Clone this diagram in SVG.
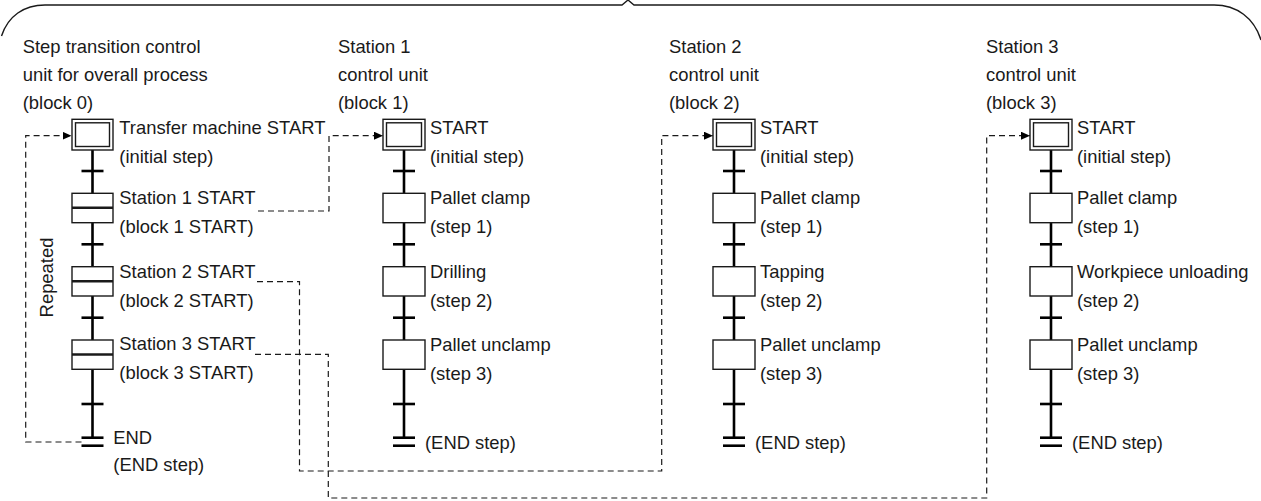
<svg xmlns="http://www.w3.org/2000/svg" width="1261" height="501" viewBox="0 0 1261 501">
<defs>
<style>
text{font-family:"Liberation Sans",Arial,sans-serif;font-size:18.4px;fill:#1a1a1a}
.box{fill:#fff;stroke:#1a1a1a;stroke-width:1.4}
.mid{stroke:#1a1a1a;stroke-width:2.6}
.spine{stroke:#000;stroke-width:2.6;fill:none}
.bar{stroke:#000;stroke-width:2.6}
.dash{fill:none;stroke:#1a1a1a;stroke-width:1.2;stroke-dasharray:6 4}
.brace{fill:none;stroke:#1a1a1a;stroke-width:1.4}
</style>
<marker id="arr" markerUnits="userSpaceOnUse" markerWidth="10" markerHeight="9" refX="9" refY="4" orient="auto">
<path d="M0,0 L9,4 L0,8 z" fill="#000"/>
</marker>
</defs>
<rect width="1261" height="501" fill="#fff"/>

<path class="brace" d="M1.5,36 C8,16 24,5 45,5 L622,5 L628,0 L634,5 L1214,5 C1237,5 1254,18 1261,40"/>

<g id="connectors">
<g id="spines">
<line class="spine" x1="92.5" y1="150" x2="92.5" y2="437.7"/>
<line class="bar" x1="81.5" y1="171" x2="103.5" y2="171"/>
<line class="bar" x1="81.5" y1="244.3" x2="103.5" y2="244.3"/>
<line class="bar" x1="81.5" y1="317.7" x2="103.5" y2="317.7"/>
<line class="bar" x1="81.5" y1="404" x2="103.5" y2="404"/>
<g id="spine-b1">
<line class="spine" x1="404" y1="150" x2="404" y2="437.7"/>
<line class="bar" x1="393" y1="171" x2="415" y2="171"/>
<line class="bar" x1="393" y1="244.3" x2="415" y2="244.3"/>
<line class="bar" x1="393" y1="317.7" x2="415" y2="317.7"/>
<line class="bar" x1="393" y1="404" x2="415" y2="404"/>
</g>
<use href="#spine-b1" transform="translate(330,0)"/>
<use href="#spine-b1" transform="translate(647,0)"/>
</g>
<path class="dash" marker-end="url(#arr)" d="M81.5,442 H25.7 V135.7 H71.5"/>
<path class="dash" marker-end="url(#arr)" d="M258,211 H329 V135.7 H383"/>
<path class="dash" marker-end="url(#arr)" d="M257,281.7 H299.5 V471 H661.7 V135.7 H713"/>
<path class="dash" marker-end="url(#arr)" d="M255,354.3 H328.3 V498 H986.7 V135.7 H1030"/>
</g>

<g id="block0">
<g id="b0-header">
<text x="22.7" y="53">Step transition control</text>
<text x="22.7" y="81">unit for overall process</text>
<text x="22.7" y="108.5">(block 0)</text>
</g>
<g id="b0-start">
<rect class="box" x="72" y="119.3" width="41" height="30.7"/>
<rect class="box" x="75.5" y="122.8" width="34" height="23.7"/>
<text x="119.3" y="134">Transfer machine START</text>
<text x="119.3" y="162.7">(initial step)</text>
</g>
<g id="b0-st1">
<rect class="box" x="72" y="193.3" width="41" height="29.4"/>
<line class="mid" x1="72" y1="207.8" x2="113" y2="207.8"/>
<text x="119.3" y="204">Station 1 START</text>
<text x="119.3" y="233">(block 1 START)</text>
</g>
<g id="b0-st2">
<rect class="box" x="72" y="266.7" width="41" height="29.3"/>
<line class="mid" x1="72" y1="281.2" x2="113" y2="281.2"/>
<text x="119.3" y="278.3">Station 2 START</text>
<text x="119.3" y="306.7">(block 2 START)</text>
</g>
<g id="b0-st3">
<rect class="box" x="72" y="340" width="41" height="29.3"/>
<line class="mid" x1="72" y1="354.5" x2="113" y2="354.5"/>
<text x="119.3" y="349.5">Station 3 START</text>
<text x="119.3" y="379">(block 3 START)</text>
</g>
<g id="b0-end">
<line class="bar" x1="81.5" y1="437.7" x2="103.5" y2="437.7"/>
<line class="bar" x1="81.5" y1="445.7" x2="103.5" y2="445.7"/>
<text x="113.3" y="443.5">END</text>
<text x="113.3" y="470.7">(END step)</text>
</g>
<text id="repeated" transform="translate(53,277.5) rotate(-90)" text-anchor="middle">Repeated</text>
</g>

<g id="block1">
<g id="b1-header">
<text x="338" y="53">Station 1</text>
<text x="338" y="81">control unit</text>
<text x="338" y="108.5">(block 1)</text>
</g>
<g id="b1-start">
<rect class="box" x="383" y="119.3" width="42" height="30.7"/>
<rect class="box" x="386.5" y="122.8" width="35" height="23.7"/>
<text x="430" y="134">START</text>
<text x="430" y="162.7">(initial step)</text>
</g>
<g id="b1-s1">
<rect class="box" x="383" y="193.3" width="42" height="29.4"/>
<text x="430" y="204">Pallet clamp</text>
<text x="430" y="233">(step 1)</text>
</g>
<g id="b1-s2">
<rect class="box" x="383" y="266.7" width="42" height="29.3"/>
<text x="430" y="278.3">Drilling</text>
<text x="430" y="306.7">(step 2)</text>
</g>
<g id="b1-s3">
<rect class="box" x="383" y="340" width="42" height="29.3"/>
<text x="430" y="351">Pallet unclamp</text>
<text x="430" y="380">(step 3)</text>
</g>
<g id="b1-end">
<line class="bar" x1="393" y1="437.7" x2="415" y2="437.7"/>
<line class="bar" x1="393" y1="445.7" x2="415" y2="445.7"/>
<text x="425" y="449">(END step)</text>
</g>
</g>

<g id="block2" transform="translate(330,0)">
<g id="b2-header">
<text x="339" y="53">Station 2</text>
<text x="339" y="81">control unit</text>
<text x="339" y="108.5">(block 2)</text>
</g>
<g id="b2-start">
<rect class="box" x="383" y="119.3" width="42" height="30.7"/>
<rect class="box" x="386.5" y="122.8" width="35" height="23.7"/>
<text x="430" y="134">START</text>
<text x="430" y="162.7">(initial step)</text>
</g>
<g id="b2-s1">
<rect class="box" x="383" y="193.3" width="42" height="29.4"/>
<text x="430" y="204">Pallet clamp</text>
<text x="430" y="233">(step 1)</text>
</g>
<g id="b2-s2">
<rect class="box" x="383" y="266.7" width="42" height="29.3"/>
<text x="430" y="278.3">Tapping</text>
<text x="430" y="306.7">(step 2)</text>
</g>
<g id="b2-s3">
<rect class="box" x="383" y="340" width="42" height="29.3"/>
<text x="430" y="351">Pallet unclamp</text>
<text x="430" y="380">(step 3)</text>
</g>
<g id="b2-end">
<line class="bar" x1="393" y1="437.7" x2="415" y2="437.7"/>
<line class="bar" x1="393" y1="445.7" x2="415" y2="445.7"/>
<text x="425" y="449">(END step)</text>
</g>
</g>

<g id="block3" transform="translate(647,0)">
<g id="b3-header">
<text x="339" y="53">Station 3</text>
<text x="339" y="81">control unit</text>
<text x="339" y="108.5">(block 3)</text>
</g>
<g id="b3-start">
<rect class="box" x="383" y="119.3" width="42" height="30.7"/>
<rect class="box" x="386.5" y="122.8" width="35" height="23.7"/>
<text x="430" y="134">START</text>
<text x="430" y="162.7">(initial step)</text>
</g>
<g id="b3-s1">
<rect class="box" x="383" y="193.3" width="42" height="29.4"/>
<text x="430" y="204">Pallet clamp</text>
<text x="430" y="233">(step 1)</text>
</g>
<g id="b3-s2">
<rect class="box" x="383" y="266.7" width="42" height="29.3"/>
<text x="430" y="278.3">Workpiece unloading</text>
<text x="430" y="306.7">(step 2)</text>
</g>
<g id="b3-s3">
<rect class="box" x="383" y="340" width="42" height="29.3"/>
<text x="430" y="351">Pallet unclamp</text>
<text x="430" y="380">(step 3)</text>
</g>
<g id="b3-end">
<line class="bar" x1="393" y1="437.7" x2="415" y2="437.7"/>
<line class="bar" x1="393" y1="445.7" x2="415" y2="445.7"/>
<text x="425" y="449">(END step)</text>
</g>
</g>
</svg>
